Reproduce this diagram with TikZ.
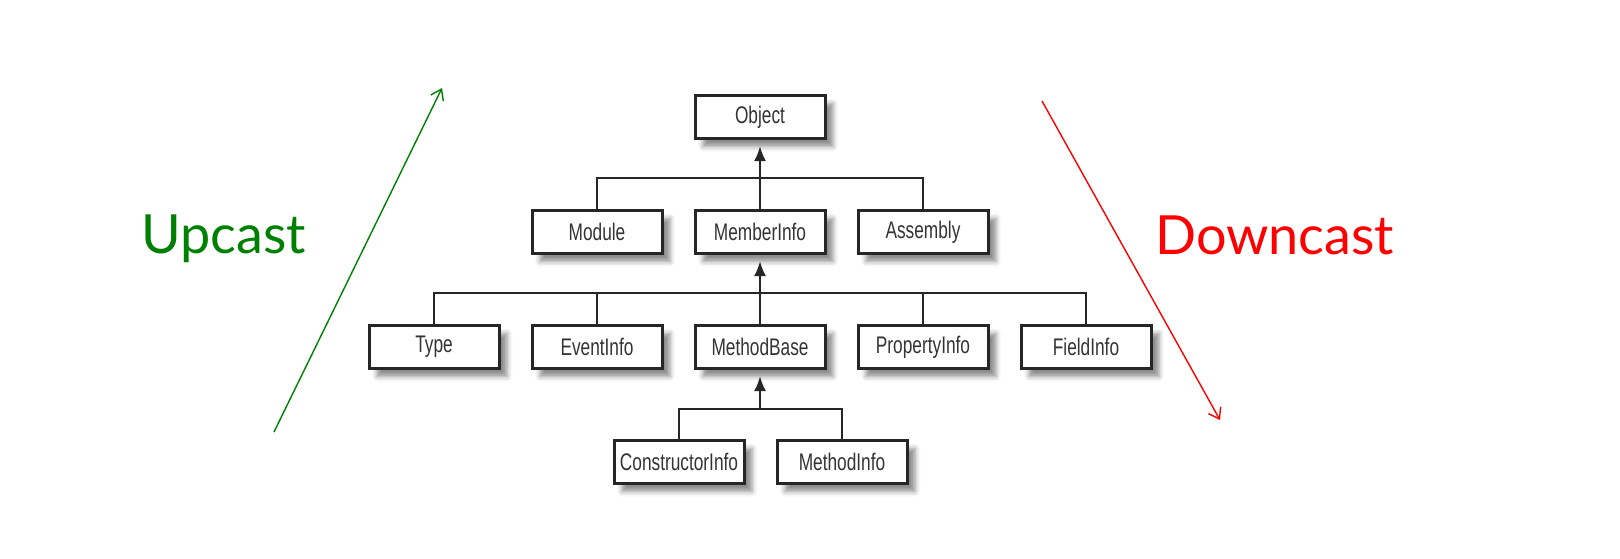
\documentclass[tikz,border=0pt]{standalone}
\usepackage{fontspec}
\setmainfont{Lato}
\newfontfamily\boxfont[FakeStretch=0.72]{Liberation Sans}
\usetikzlibrary{arrows.meta,shadows.blur}
\definecolor{upgreen}{RGB}{0,128,0}

\begin{document}
\begin{tikzpicture}[x=0.5pt,y=-0.5pt,
	cls/.style={draw=black!85, line width=1.5pt, fill=white, minimum width=65pt, minimum height=21.5pt, inner sep=0pt,
		font=\boxfont\fontsize{12}{14}\selectfont, text=black!80,
		blur shadow={shadow xshift=4pt, shadow yshift=-4pt, shadow blur radius=2.5pt, shadow opacity=45}},
	conn/.style={draw=black!85, line width=1.2pt},
	inherit/.style={conn, -{Latex[length=7.5pt,width=6pt]}},
	cast/.style={line width=0.7pt, -{Straight Barb[length=5pt,width=7pt]}}]
	\useasboundingbox (0,0) rectangle (1620,558);
	% classes
	\node[cls] (Object) at (760,117) {Object};
	\node[cls] (Module) at (597,232) {Module};
	\node[cls] (MemberInfo) at (760,232) {MemberInfo};
	\node[cls] (Assembly) at (923,232) {Assembly};
	\node[cls] (Type) at (434,347) {Type};
	\node[cls] (EventInfo) at (597,347) {EventInfo};
	\node[cls] (MethodBase) at (760,347) {MethodBase};
	\node[cls] (PropertyInfo) at (923,347) {PropertyInfo};
	\node[cls] (FieldInfo) at (1086,347) {FieldInfo};
	\node[cls] (ConstructorInfo) at (679,462) {ConstructorInfo};
	\node[cls] (MethodInfo) at (842,462) {MethodInfo};
	% buses
	\draw[conn] (Module.north) -- ++(0,-31) -| (Assembly.north);
	\draw[conn] (Type.north) -- ++(0,-31) -| (FieldInfo.north);
	\draw[conn] (EventInfo.north) -- ++(0,-31);
	\draw[conn] (PropertyInfo.north) -- ++(0,-31);
	\draw[conn] (ConstructorInfo.north) -- ++(0,-30) coordinate (bus4) -| (MethodInfo.north);
	% inheritance arrows
	\draw[inherit] (MemberInfo.north) -- ([yshift=-3pt]Object.south);
	\draw[inherit] (MethodBase.north) -- ([yshift=-3pt]MemberInfo.south);
	\draw[inherit] (bus4 -| MethodBase.south) -- ([yshift=-3pt]MethodBase.south);
	% casts
	\coordinate (upfrom) at (274,432);
	\coordinate (upto) at (442,88);
	\coordinate (downfrom) at (1042,101);
	\coordinate (downto) at (1220,420);
	\draw[cast, upgreen] (upfrom) -- (upto);
	\draw[cast, red] (downfrom) -- (downto);
	\node[anchor=base west, inner sep=0pt, text=upgreen, font=\fontsize{27}{30}\selectfont] (upcast) at (141,253) {Upcast};
	\node[anchor=base west, inner sep=0pt, text=red, font=\fontsize{27}{30}\selectfont] (downcast) at (1155,254) {Downcast};
\end{tikzpicture}
\end{document}
